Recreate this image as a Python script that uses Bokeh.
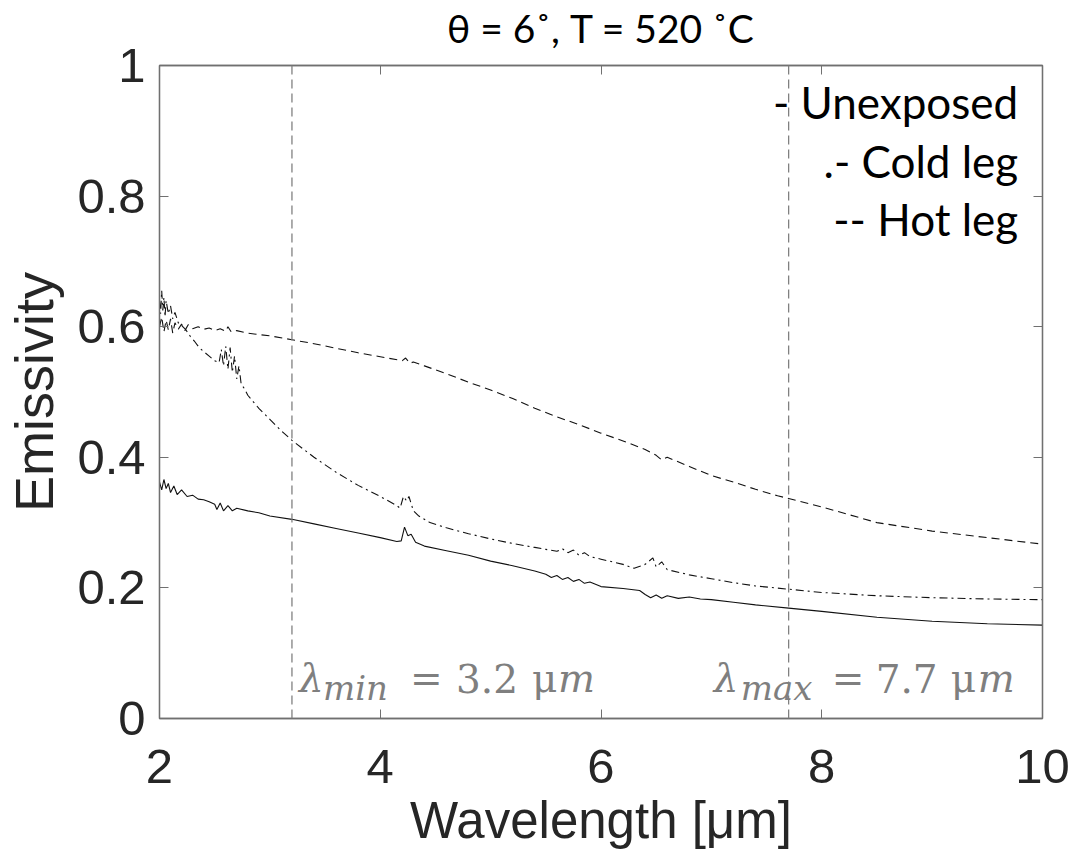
from bokeh.plotting import figure
from bokeh.models import LinearAxis, FixedTicker, Label, Span, CustomLabelingPolicy
from bokeh.embed import file_html
from bokeh.resources import INLINE

# ---------------- data ----------------
title_text = "θ = 6˚, T = 520 ˚C"
x_label = "Wavelength [μm]"
y_label = "Emissivity"
x_ticks = [2, 4, 6, 8, 10]
x_tick_labels = ["2", "4", "6", "8", "10"]
y_ticks = [0, 0.2, 0.4, 0.6, 0.8, 1.0]
y_tick_labels = ["0", "0.2", "0.4", "0.6", "0.8", "1"]

legend_texts = ["- Unexposed", ".- Cold leg", "-- Hot leg"]
lambda_min = 3.2
lambda_max = 7.7

hot_wl = [2.00, 2.02, 2.04, 2.06, 2.08, 2.10, 2.12, 2.14, 2.17, 2.20, 2.23, 2.26, 2.30,
          2.35, 2.40, 2.45, 2.50, 2.55, 2.60, 2.62, 2.65, 2.70, 2.8, 2.9, 3.0, 3.2, 3.4,
          3.6, 3.8, 4.0, 4.2, 4.23, 4.27, 4.3, 4.4, 4.6, 4.8, 5.0, 5.2, 5.4, 5.6, 5.8,
          6.0, 6.2, 6.4, 6.5, 6.55, 6.6, 6.8, 7.0, 7.2, 7.4, 7.6, 7.7, 8.0, 8.5, 9.0,
          9.5, 10.0]
hot_em = [0.600, 0.615, 0.592, 0.610, 0.595, 0.612, 0.590, 0.606, 0.596, 0.604, 0.594,
          0.603, 0.597, 0.600, 0.596, 0.598, 0.594, 0.597, 0.593, 0.600, 0.592, 0.594,
          0.590, 0.588, 0.586, 0.580, 0.574, 0.567, 0.560, 0.554, 0.548, 0.552, 0.544,
          0.546, 0.540, 0.528, 0.515, 0.503, 0.490, 0.475, 0.462, 0.450, 0.437, 0.425,
          0.412, 0.403, 0.396, 0.400, 0.386, 0.372, 0.362, 0.351, 0.341, 0.337, 0.324,
          0.300, 0.287, 0.277, 0.267]

cold_wl = [2.00, 2.01, 2.02, 2.03, 2.04, 2.05, 2.06, 2.08, 2.10, 2.12, 2.14, 2.17, 2.20,
           2.24, 2.28, 2.32, 2.36, 2.40, 2.45, 2.50, 2.54, 2.56, 2.58, 2.60, 2.62, 2.64,
           2.66, 2.68, 2.70, 2.72, 2.74, 2.77, 2.80, 2.85, 2.9, 3.0, 3.1, 3.2, 3.4, 3.6,
           3.8, 4.0, 4.15, 4.18, 4.21, 4.24, 4.26, 4.30, 4.35, 4.45, 4.6, 4.8, 5.0, 5.2,
           5.4, 5.5, 5.6, 5.65, 5.7, 5.75, 5.8, 5.85, 5.9, 6.0, 6.2, 6.3, 6.4, 6.47, 6.5,
           6.55, 6.6, 6.8, 7.0, 7.2, 7.4, 7.7, 8.0, 8.5, 9.0, 9.5, 10.0]
cold_em = [0.640, 0.620, 0.655, 0.625, 0.645, 0.615, 0.640, 0.620, 0.632, 0.612, 0.622,
           0.606, 0.602, 0.595, 0.585, 0.577, 0.568, 0.562, 0.555, 0.548, 0.545, 0.565,
           0.540, 0.570, 0.535, 0.568, 0.530, 0.555, 0.520, 0.540, 0.512, 0.505, 0.495,
           0.485, 0.475, 0.458, 0.441, 0.426, 0.400, 0.377, 0.357, 0.340, 0.326, 0.322,
           0.340, 0.333, 0.340, 0.318, 0.310, 0.300, 0.292, 0.283, 0.275, 0.268, 0.262,
           0.259, 0.256, 0.260, 0.254, 0.258, 0.250, 0.254, 0.248, 0.244, 0.236, 0.230,
           0.236, 0.246, 0.232, 0.240, 0.228, 0.220, 0.214, 0.208, 0.203, 0.198, 0.193,
           0.188, 0.185, 0.183, 0.182]

unexp_wl = [2.00, 2.02, 2.04, 2.06, 2.08, 2.10, 2.13, 2.16, 2.20, 2.25, 2.30, 2.35, 2.40,
            2.45, 2.50, 2.52, 2.55, 2.58, 2.62, 2.66, 2.70, 2.80, 2.9, 3.0, 3.2, 3.4, 3.6,
            3.8, 4.0, 4.15, 4.19, 4.22, 4.25, 4.28, 4.32, 4.4, 4.6, 4.8, 5.0, 5.2, 5.4,
            5.5, 5.55, 5.6, 5.65, 5.7, 5.75, 5.8, 5.85, 5.9, 6.0, 6.2, 6.35, 6.4, 6.45,
            6.5, 6.55, 6.6, 6.7, 6.8, 6.9, 7.0, 7.2, 7.4, 7.7, 8.0, 8.5, 9.0, 9.5, 10.0]
unexp_em = [0.362, 0.350, 0.366, 0.352, 0.360, 0.346, 0.356, 0.343, 0.350, 0.340, 0.342,
            0.336, 0.335, 0.332, 0.328, 0.320, 0.330, 0.318, 0.326, 0.318, 0.322, 0.318,
            0.315, 0.310, 0.305, 0.298, 0.291, 0.284, 0.277, 0.271, 0.272, 0.293, 0.280,
            0.282, 0.270, 0.264, 0.257, 0.250, 0.241, 0.234, 0.226, 0.221, 0.216, 0.219,
            0.213, 0.216, 0.210, 0.213, 0.207, 0.209, 0.202, 0.199, 0.196, 0.190, 0.185,
            0.189, 0.184, 0.188, 0.184, 0.186, 0.183, 0.182, 0.178, 0.174, 0.169, 0.164,
            0.155, 0.149, 0.145, 0.143]

# ---------------- styles ----------------
AX_FONT = "Liberation Sans"
TXT_FONT = "Lato"
MATH_FONT = "DejaVu Serif"
DARK = "#262626"
FRAME = "#707070"
GRAY_TXT = "#7f7f7f"

p = figure(width=1071, height=866, x_range=(2, 10), y_range=(0, 1),
           output_backend="svg", toolbar_location=None,
           min_border_left=159, min_border_right=29, min_border_top=65,
           min_border_bottom=148)

p.xgrid.visible = False
p.ygrid.visible = False
p.outline_line_color = FRAME
p.outline_line_width = 1.3
p.background_fill_color = "white"
p.border_fill_color = "white"

xt = FixedTicker(ticks=x_ticks)
yt = FixedTicker(ticks=y_ticks)

for ax, t, labs in ((p.xaxis[0], xt, dict(zip(x_ticks, x_tick_labels))),
                    (p.yaxis[0], yt, dict(zip(y_ticks, y_tick_labels)))):
    ax.ticker = t
    ax.major_label_overrides = labs
    ax.major_label_text_font = AX_FONT
    ax.major_label_text_font_size = "49px"
    ax.major_label_text_color = DARK
    ax.axis_label_text_font = AX_FONT
    ax.axis_label_text_font_style = "normal"
    ax.axis_label_text_color = DARK
    ax.axis_line_color = FRAME
    ax.axis_line_width = 1.3
    ax.major_tick_in = 9
    ax.major_tick_out = 0
    ax.major_tick_line_color = FRAME
    ax.minor_tick_line_color = None

p.xaxis.axis_label = x_label
p.yaxis.axis_label = y_label
p.xaxis.axis_label_text_font_size = "51px"
p.yaxis.axis_label_text_font_size = "54px"
p.xaxis.major_label_standoff = 31
p.xaxis.axis_label_standoff = 6
p.yaxis.major_label_standoff = 14
p.yaxis.axis_label_standoff = 10

hide_all = CustomLabelingPolicy(code="""
for (const i of indices) { indices.unset(i) }
return indices
""")
# top axis (ticks only) carries the title as its label; right axis ticks only
top_ax = LinearAxis(ticker=xt, major_label_text_font_size="1px",
                    major_label_policy=hide_all, major_label_standoff=0,
                    axis_line_color=FRAME, axis_line_width=1.3,
                    major_tick_in=9, major_tick_out=0,
                    major_tick_line_color=FRAME, minor_tick_line_color=None,
                    axis_label=title_text, axis_label_text_font=TXT_FONT,
                    axis_label_text_font_size="39px", axis_label_text_font_style="normal",
                    axis_label_text_line_height=0.8,
                    axis_label_text_color="#000000", axis_label_standoff=11)
p.add_layout(top_ax, "above")
right_ax = LinearAxis(ticker=yt, major_label_text_font_size="1px",
                      major_label_policy=hide_all, major_label_standoff=0,
                      axis_line_color=FRAME, axis_line_width=1.3,
                      major_tick_in=9, major_tick_out=0,
                      major_tick_line_color=FRAME, minor_tick_line_color=None)
p.add_layout(right_ax, "right")

# reference lines
for lam in (lambda_min, lambda_max):
    p.add_layout(Span(location=lam, dimension="height", line_color="#808080",
                      line_width=1.3, line_dash="9 5"))

# curves
p.line(unexp_wl, unexp_em, line_color="#111111", line_width=1.1)
p.line(cold_wl, cold_em, line_color="#111111", line_width=1.1, line_dash="8 4 2 4")
p.line(hot_wl, hot_em, line_color="#111111", line_width=1.1, line_dash="8 5")

# legend-like texts (right aligned)
leg_y = [0.944, 0.854, 0.765]
for txt, yy in zip(legend_texts, leg_y):
    p.add_layout(Label(x=9.78, y=yy, text=txt, text_align="right",
                       text_baseline="alphabetic", text_font=TXT_FONT,
                       text_font_size="44px", text_color="#000000"))

# lambda annotations, built from pieces
def lam_label(xd, offsets, sub):
    pieces = [("λ", 0, "italic", "39px", 0.062),
              (sub, 1, "italic", "34px", 0.047),
              ("=", 2, "normal", "39px", 0.062),
              (str(xd), 3, "normal", "39px", 0.062),
              ("μ", 4, "normal", "39px", 0.062),
              ("m", 5, "italic", "39px", 0.062)]
    for txt, i, style, size, yy in pieces:
        p.add_layout(Label(x=xd, y=yy, x_offset=offsets[i], text=txt,
                           text_font=MATH_FONT, text_font_style=style,
                           text_font_size=size, text_color=GRAY_TXT,
                           text_baseline="alphabetic", text_align="left"))

lam_label(lambda_min, [7, 31, 118, 164, 240, 266], "min")
lam_label(lambda_max, [-75, -48, 43, 87, 162, 189], "max")

open("out.html", "w").write(file_html(p, INLINE))
